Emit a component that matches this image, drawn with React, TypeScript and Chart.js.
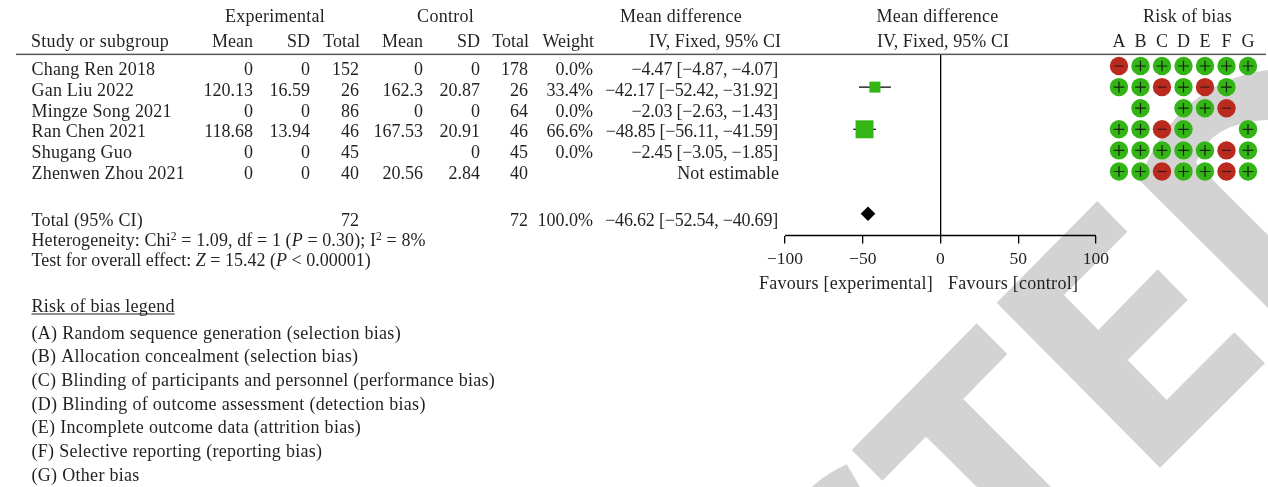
import React, { useEffect, useRef } from "react";
import { Chart, registerables } from "chart.js";

Chart.register(...registerables);

const studies = ["Chang Ren 2018", "Gan Liu 2022", "Mingze Song 2021", "Ran Chen 2021", "Shugang Guo", "Zhenwen Zhou 2021"];
const expMean = ["0", "120.13", "0", "118.68", "0", "0"];
const expSd = ["0", "16.59", "0", "13.94", "0", "0"];
const expTotal = [152, 26, 86, 46, 45, 40];
const ctlMean = ["0", "162.3", "0", "167.53", "", "20.56"];
const ctlSd = ["0", "20.87", "0", "20.91", "0", "2.84"];
const ctlTotal = [178, 26, 64, 46, 45, 40];
const weights = ["0.0%", "33.4%", "0.0%", "66.6%", "0.0%", ""];
const meanDiff = [-4.47, -42.17, -2.03, -48.85, -2.45, null];
const ciLow = [-4.87, -52.42, -2.63, -56.11, -3.05, null];
const ciHigh = [-4.07, -31.92, -1.43, -41.59, -1.85, null];
// Rows that carry a mark on the forest plot (studies with non-zero weight)
const plottedRows = [1, 3];
const plottedWeights = [33.4, 66.6];
const totalRow = 7;
const totalN = 72;
const totalWeight = "100.0%";
const totalMean = -46.62;
const totalLow = -52.54;
const totalHigh = -40.69;
const xTicks = [-100, -50, 0, 50, 100];
const riskLetters = ["A", "B", "C", "D", "E", "F", "G"];
// 1 = low risk (+), -1 = high risk (−), 0 = not shown
const riskMatrix = [
  [-1, 1, 1, 1, 1, 1, 1],
  [1, 1, -1, 1, -1, 1, 0],
  [0, 1, 0, 1, 1, -1, 0],
  [1, 1, -1, 1, 0, 0, 1],
  [1, 1, 1, 1, 1, -1, 1],
  [1, 1, -1, 1, 1, -1, 1],
];
const legendItems = [
  "(A) Random sequence generation (selection bias)",
  "(B) Allocation concealment (selection bias)",
  "(C) Blinding of participants and personnel (performance bias)",
  "(D) Blinding of outcome assessment (detection bias)",
  "(E) Incomplete outcome data (attrition bias)",
  "(F) Selective reporting (reporting bias)",
  "(G) Other bias",
];

const GREEN = "#33b516";
const RED = "#bb2a1e";
const INK = "#231f20";
const FONT_SIZE = 18;
const FAMILY = '"Liberation Serif", serif';

const fmt = (v: number) => v.toFixed(2).replace("-", "\u2212");
const fmtCi = (m: number, l: number, h: number) => `${fmt(m)} [${fmt(l)}, ${fmt(h)}]`;

type Run = { t: string; i?: boolean; sup?: boolean };

const watermark = {
  id: "watermark",
  beforeDraw(chart: any) {
    const c = chart.ctx;
    c.save();
    c.fillStyle = "#fff";
    c.fillRect(0, 0, chart.width, chart.height);
    c.fillStyle = "#d3d3d3";
    const poly = (pts: number[][]) => {
      c.beginPath();
      pts.forEach((p, i) => (i ? c.lineTo(p[0], p[1]) : c.moveTo(p[0], p[1])));
      c.closePath();
      c.fill();
    };
    poly([[1097.3, 201], [1127.3, 231.7], [1064, 295], [1098.3, 330], [1157.7, 269.3], [1187.7, 300], [1127.7, 360], [1166.7, 400], [1234.3, 332.3], [1265, 363.3], [1160, 467.7], [996.7, 302.7]]);
    poly([[976.7, 323.3], [1007.3, 354], [963.3, 399], [1051, 487], [977, 487], [926, 436.7], [882.3, 480.7], [851.7, 450]]);
    // curved letters
    c.beginPath();
    c.moveTo(811.7, 487);
    c.quadraticCurveTo(827, 473, 846.7, 464.3);
    c.lineTo(860, 487);
    c.closePath();
    c.fill();
    c.beginPath();
    c.moveTo(1139, 180);
    c.lineTo(1268, 308);
    c.lineTo(1268, 235);
    c.lineTo(1196, 163);
    c.quadraticCurveTo(1210, 122, 1268, 120);
    c.lineTo(1268, 70);
    c.quadraticCurveTo(1178, 82, 1139, 180);
    c.closePath();
    c.fill();
    c.restore();
  },
};

const tableText = {
  id: "tableText",
  afterDraw(chart: any) {
    const c = chart.ctx;
    c.save();
    c.fillStyle = INK;
    const font = `${FONT_SIZE}px ${FAMILY}`;
    c.font = font;
    c.textBaseline = "alphabetic";
    const sp = (v: number) => { c.letterSpacing = `${v}px`; };
    const L = (s: string, x: number, y: number, k = 0.25) => { sp(k); c.textAlign = "left"; c.fillText(s, x, y); };
    const R = (s: string, x: number, y: number, k = 0) => { sp(k); c.textAlign = "right"; c.fillText(s, x, y); };
    const M = (s: string, x: number, y: number, k = 0.25) => { sp(k); c.textAlign = "center"; c.fillText(s, x, y); };
    const runs = (rs: Run[], x0: number, y: number, k: number) => {
      let x = x0;
      sp(k);
      c.textAlign = "left";
      rs.forEach((r) => {
        c.font = r.sup ? `${FONT_SIZE * 0.65}px ${FAMILY}` : `${r.i ? "italic " : ""}${FONT_SIZE}px ${FAMILY}`;
        c.fillText(r.t, x, r.sup ? y - 6.5 : y);
        x += c.measureText(r.t).width;
      });
      c.font = font;
    };

    // Header
    M("Experimental", 275, 22);
    M("Control", 445.5, 22);
    M("Mean difference", 681, 22);
    M("Mean difference", 937.5, 22);
    M("Risk of bias", 1187.5, 22);
    L("Study or subgroup", 31, 47, 0.3);
    R("Mean", 253, 47);
    R("SD", 310, 47);
    R("Total", 360, 47);
    R("Mean", 423, 47);
    R("SD", 480, 47);
    R("Total", 529, 47);
    R("Weight", 594, 47);
    R("IV, Fixed, 95% CI", 781, 47, 0.05);
    M("IV, Fixed, 95% CI", 943, 47, 0.05);

    c.fillStyle = "#58595b";
    c.fillRect(16, 53.6, 1250, 1.5);
    c.fillStyle = INK;

    // Study rows
    studies.forEach((s, i) => {
      const y = 75 + 20.8 * i;
      L(s, 31.5, y, 0.2);
      R(expMean[i], 253, y);
      R(expSd[i], 310, y);
      R(String(expTotal[i]), 359, y);
      R(ctlMean[i], 423, y);
      R(ctlSd[i], 480, y);
      R(String(ctlTotal[i]), 528, y);
      R(weights[i], 593, y);
      const m = meanDiff[i], l = ciLow[i], h = ciHigh[i];
      if (m === null) R("Not estimable", 779, y, 0.1);
      else R(fmtCi(m, l as number, h as number), 778, y, -0.2);
    });

    // Totals
    L("Total (95% CI)", 31.5, 226, 0.2);
    R(String(totalN), 359, 226);
    R(String(totalN), 528, 226);
    R(totalWeight, 593, 226);
    R(fmtCi(totalMean, totalLow, totalHigh), 778, 226, -0.2);
    runs([{ t: "Heterogeneity: Chi" }, { t: "2", sup: true }, { t: " = 1.09, df = 1 (" }, { t: "P", i: true }, { t: " = 0.30); I" }, { t: "2", sup: true }, { t: " = 8%" }], 31.5, 246, 0.1);
    runs([{ t: "Test for overall effect: " }, { t: "Z", i: true }, { t: " = 15.42 (" }, { t: "P", i: true }, { t: " < 0.00001)" }], 31.5, 265.5, 0);

    // Axis captions
    R("Favours [experimental]", 933, 288.5, 0.25);
    L("Favours [control]", 948, 288.5, 0.28);

    // Legend
    L("Risk of bias legend", 31.5, 312, 0.25);
    c.fillRect(31.5, 313.5, c.measureText("Risk of bias legend").width, 1);
    legendItems.forEach((t, i) => L(t, 31.5, 338.5 + 23.7 * i, 0.3));
    c.restore();
  },
};

const riskPoints = (sign: number) => {
  const pts: { x: number; y: number }[] = [];
  riskMatrix.forEach((row, r) => row.forEach((v, col) => { if (v === sign) pts.push({ x: col, y: r }); }));
  return pts;
};

export default function App() {
  const ref = useRef<HTMLCanvasElement>(null);
  useEffect(() => {
    const common = { type: "scatter" as const, xAxisID: "x", yAxisID: "y", clip: false as any };
    const risk = { type: "scatter" as const, xAxisID: "xr", yAxisID: "y", clip: false as any };
    const chart = new Chart(ref.current as HTMLCanvasElement, {
      type: "scatter",
      data: {
        // Chart.js paints the first dataset last, so the topmost marks come first
        datasets: [
          { ...risk, data: riskPoints(1), pointStyle: "cross", pointRadius: 5.3, borderColor: "#10240a", borderWidth: 1.2, backgroundColor: "transparent" },
          { ...risk, data: riskPoints(-1), pointStyle: "line", pointRadius: 4.5, borderColor: "#3a1a16", borderWidth: 1.2, backgroundColor: "transparent" },
          { ...risk, data: riskPoints(1), pointStyle: "circle", pointRadius: 9.2, backgroundColor: GREEN, borderWidth: 0 },
          { ...risk, data: riskPoints(-1), pointStyle: "circle", pointRadius: 9.2, backgroundColor: RED, borderWidth: 0 },
          // pooled estimate
          { ...common, data: [{ x: totalMean, y: totalRow }], pointStyle: "rectRot", pointRadius: 7.3, backgroundColor: "#000", borderWidth: 0 },
          // weighted squares
          { ...common, data: plottedRows.map((r) => ({ x: meanDiff[r], y: r })), pointStyle: "rect", pointRadius: plottedWeights.map((w) => 2.87 + w * 0.1476), backgroundColor: GREEN, borderWidth: 0 },
          // confidence intervals
          ...plottedRows.map((r) => ({ ...common, data: [{ x: ciLow[r], y: r }, { x: ciHigh[r], y: r }], showLine: true, borderColor: "#000", borderWidth: 1.2, pointRadius: 0 })),
          // axis baseline
          { ...common, data: [{ x: xTicks[0], y: 8.033 }, { x: xTicks[xTicks.length - 1], y: 8.033 }], showLine: true, borderColor: "#000", borderWidth: 1.3, pointRadius: 0 },
        ] as any,
      },
      options: {
        responsive: false,
        animation: false,
        devicePixelRatio: 1,
        layout: { padding: { left: 785, right: 14, top: 0, bottom: 0 } },
        plugins: { legend: { display: false }, tooltip: { enabled: false } },
        events: [],
        scales: {
          x: {
            type: "linear",
            position: "bottom",
            bounds: "data",
            min: -100,
            max: 201.61,
            border: { display: false },
            grid: {
              color: (ctx: any) => (ctx.tick && ctx.tick.value === 0 ? "#000" : "transparent"),
              tickColor: "#000",
              tickLength: 8,
              lineWidth: 1.3,
            },
            ticks: {
              autoSkip: false,
              maxRotation: 0,
              minRotation: 0,
              padding: 5,
              color: INK,
              font: { family: FAMILY, size: 17.5 },
              callback: (v: any) => String(v).replace("-", "\u2212"),
            },
            afterBuildTicks: (s: any) => { s.ticks = xTicks.map((value) => ({ value })); },
            afterFit: (s: any) => { s.height = 487 - 235.5; },
          },
          xr: {
            type: "linear",
            position: "top",
            bounds: "data",
            min: -15.53,
            max: 6.279,
            border: { display: false },
            grid: { display: false, drawTicks: false },
            ticks: {
              autoSkip: false,
              maxRotation: 0,
              minRotation: 0,
              padding: 1,
              color: INK,
              font: { family: FAMILY, size: FONT_SIZE },
              callback: (v: any) => riskLetters[v as number] ?? "",
            },
            afterBuildTicks: (s: any) => { s.ticks = riskLetters.map((_, value) => ({ value })); },
            afterFit: (s: any) => { s.height = 54.5; },
          },
          y: { type: "linear", display: false, reverse: true, bounds: "data", min: -0.545, max: 8.033 },
        },
      } as any,
      plugins: [watermark, tableText],
    });
    return () => chart.destroy();
  }, []);
  return (
    <div style={{ position: "absolute", left: 0, top: 0, width: 1268, height: 487, background: "#fff" }}>
      <canvas ref={ref} width={1268} height={487} style={{ display: "block" }} />
    </div>
  );
}
